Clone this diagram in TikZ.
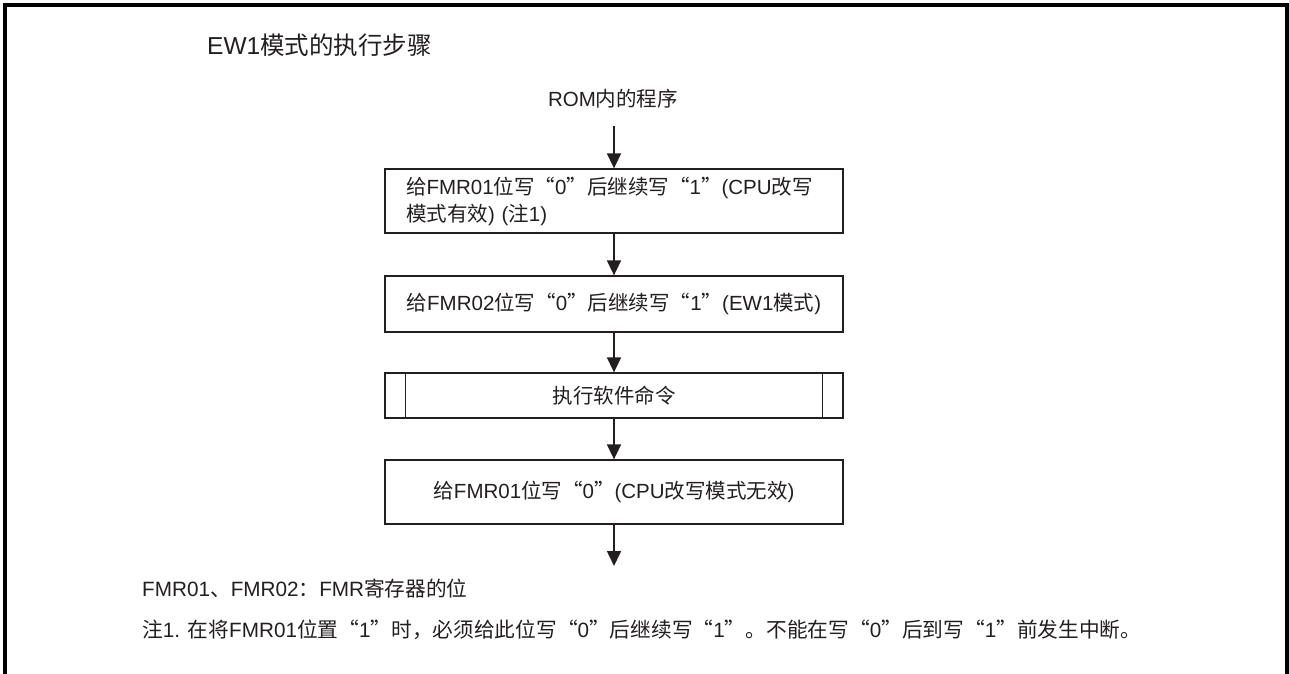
\documentclass[tikz,border=0pt]{standalone}
\usepackage{fontspec}
\setmainfont{Liberation Sans}
\newfontfamily\cjk{Noto Sans CJK SC}
\usetikzlibrary{arrows.meta}
\XeTeXinterchartokenstate=1
\newXeTeXintercharclass\CJKcls
\makeatletter
\def\setcjkrange#1#2{\count@=#1\relax
  \loop\XeTeXcharclass\count@=\CJKcls\ifnum\count@<#2\relax\advance\count@ by 1\repeat}
\makeatother
\setcjkrange{"4E00}{"9FFF}
\setcjkrange{"3000}{"303F}
\setcjkrange{"FF00}{"FFEF}
\XeTeXcharclass"201C=\CJKcls
\XeTeXcharclass"201D=\CJKcls
\XeTeXinterchartoks 0 \CJKcls = {\begingroup\cjk}
\XeTeXinterchartoks 4095 \CJKcls = {\begingroup\cjk}
\XeTeXinterchartoks \CJKcls 0 = {\endgroup}
\XeTeXinterchartoks \CJKcls 4095 = {\endgroup}
\definecolor{ink}{HTML}{231F20}
\tikzset{
  box/.style={draw=ink, line width=1.3pt, minimum width=458pt, inner xsep=0pt, inner ysep=0pt, text=ink, font=\fontsize{20.5}{27}\selectfont},
  flow/.style={draw=ink, line width=1.6pt, -{Triangle[width=14pt,length=15pt]}},
  lbl/.style={text=ink, inner sep=0pt},
}
\begin{document}
\begin{tikzpicture}[x=1pt,y=-1pt]
\useasboundingbox (0,0) rectangle (1289,673);
\fill[white] (0,0) rectangle (1289,673);
\draw[line width=3.5pt, black] (5,675) -- (5,5) -- (1287,5) -- (1287,675);
\node[lbl, anchor=west, font=\fontsize{24.5}{28}\selectfont] (title) at (207,45) {EW1模式的执行步骤};
\node[lbl, font=\fontsize{20.5}{24}\selectfont] (rom) at (613,99) {ROM内的程序};
\node[box, minimum height=64pt, align=left, text width=416pt, inner xsep=21pt] (b1) at (614,201) {给FMR01位写“0”后继续写“1”(CPU改写\\模式有效) (注1)};
\node[box, minimum height=56pt] (b2) at (614,304) {给FMR02位写“0”后继续写“1”(EW1模式)};
\node[box, minimum height=45pt] (b3) at (614,395.5) {执行软件命令};
\draw[ink, line width=1.3pt] ([xshift=21pt]b3.north west) -- ([xshift=21pt]b3.south west);
\draw[ink, line width=1.3pt] ([xshift=-21pt]b3.north east) -- ([xshift=-21pt]b3.south east);
\node[box, minimum height=64pt] (b4) at (614,492) {给FMR01位写“0”(CPU改写模式无效)};
\coordinate (start) at (614,126);
\coordinate (end) at (614,566);
\draw[flow] (start) -- (b1.north);
\draw[flow] (b1) -- (b2);
\draw[flow] (b2) -- (b3);
\draw[flow] (b3) -- (b4);
\draw[flow] (b4) -- (end);
\node[lbl, anchor=west, font=\fontsize{20.7}{24}\selectfont] (fn1) at (142,589) {FMR01、FMR02：FMR寄存器的位};
\node[lbl, anchor=west, font=\fontsize{20.7}{24}\selectfont] (fn2) at (142,630) {注1. 在将FMR01位置“1”时，必须给此位写“0”后继续写“1”。不能在写“0”后到写“1”前发生中断。};
\end{tikzpicture}
\end{document}
